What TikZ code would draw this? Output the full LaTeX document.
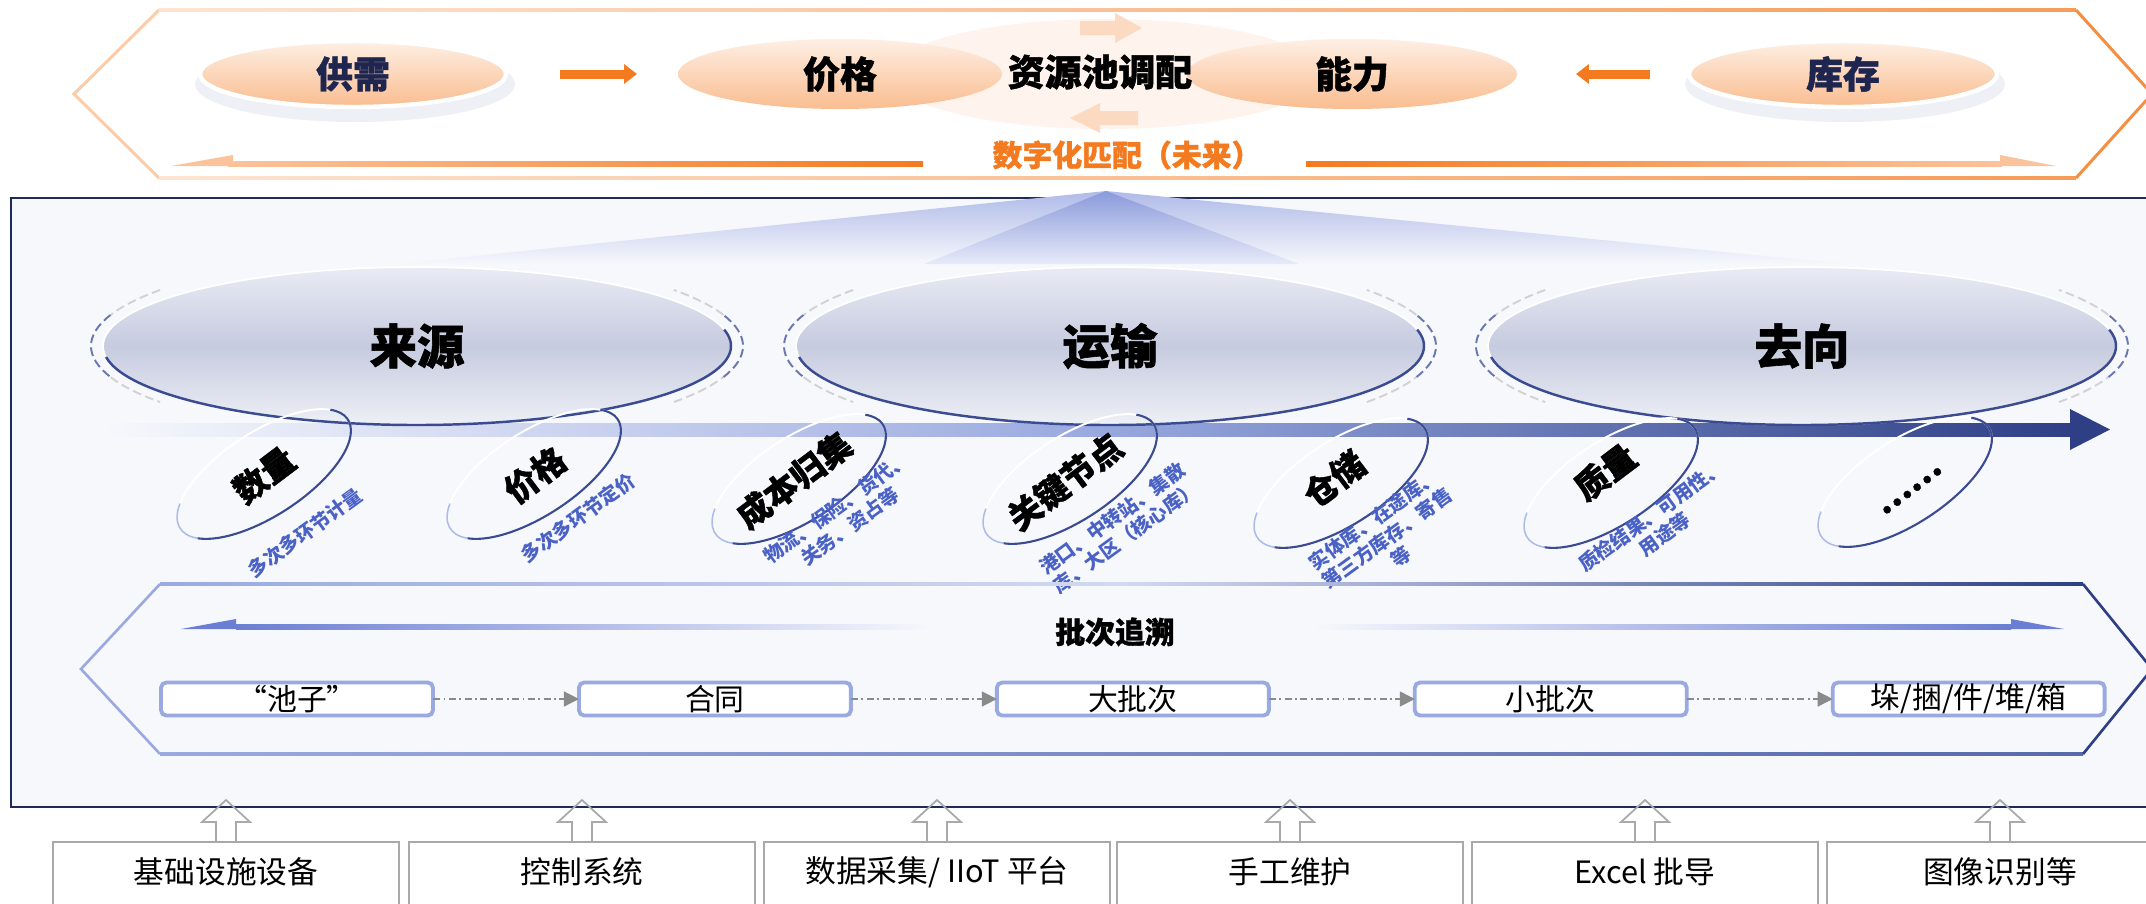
\documentclass[tikz,border=0pt]{standalone}
\usepackage{fontspec}
\setmainfont{Noto Sans CJK SC}
\newfontfamily\heavyfont{Noto Sans CJK SC}[BoldFeatures={FakeBold=1.2}]
\usetikzlibrary{shapes.geometric,arrows.meta,positioning}
\definecolor{navy}{HTML}{2E3F86}
\definecolor{navyline}{HTML}{3A4B92}
\definecolor{paneledge}{HTML}{1F2B57}
\definecolor{lblue}{HTML}{9AAAE0}
\definecolor{subblue}{HTML}{4A62C6}
\definecolor{arrowblue}{HTML}{6A7ED3}
\definecolor{panel}{HTML}{F7F8FC}
\definecolor{orng}{HTML}{F47A20}
\definecolor{lorng}{HTML}{FCCBA7}
\definecolor{ovtop}{HTML}{E9EBF4}
\definecolor{ovmid}{HTML}{C6CBDF}
\definecolor{ovbot}{HTML}{EEF0F6}
\definecolor{fanblue}{HTML}{AFBAE8}
\definecolor{fandeep}{HTML}{8A9ADB}
\definecolor{dotgray}{HTML}{8A8A8A}
\definecolor{boxgray}{HTML}{A9A9A9}
\definecolor{darktext}{HTML}{1E2650}
\newcommand{\fsz}[2]{\fontsize{#1}{#2}\selectfont}

\begin{document}
\begin{tikzpicture}[x=0.02cm, y=0.02cm]
  \tikzstyle{every node}=[inner sep=0pt, outer sep=0pt]
  \tikzstyle{topoval}=[ellipse, top color=orng!12, bottom color=orng!50, font=\heavyfont\fsz{21}{24}\bfseries]
  \tikzstyle{bigoval}=[ellipse, minimum width=12.56cm, minimum height=3.16cm, top color=ovtop, bottom color=ovbot, middle color=ovmid, font=\heavyfont\fsz{27}{30}\bfseries]
  \tikzstyle{tiltlabel}=[rotate=37, font=\heavyfont\fsz{19}{22}\bfseries]
  \tikzstyle{tiltnote}=[rotate=36, align=center, text=subblue, font=\fsz{11}{13}\bfseries]
  \tikzstyle{batch}=[draw=lblue, line width=2.2pt, rounded corners=3pt, fill=white, minimum width=5.44cm, minimum height=0.66cm, font=\fsz{17}{20}]
  \tikzstyle{flow}=[dotgray, line width=0.8pt, dash pattern=on 4pt off 2pt on 1pt off 2pt, -{Triangle[length=0.3cm, width=0.3cm]}]
  \tikzstyle{srcbox}=[draw=boxgray, line width=1pt, fill=white, minimum width=6.92cm, minimum height=2cm]
  \tikzstyle{fatarrow}=[orng, line width=0.18cm, -{Triangle[length=0.26cm, width=0.38cm]}]

  \useasboundingbox (0,0) rectangle (2146,-903);
  \fill[white] (0,0) rectangle (2146,-903);

  % top frame
  \fill[orng!8] (1105,-74) ellipse[x radius=215, y radius=55];
  \draw[lorng, line width=1.7pt] (159,-10) -- (74,-94) -- (159,-178);
  \shade[left color=orng!20, right color=orng!75] (159,-8.5) rectangle (2076,-11.5);
  \shade[left color=orng!20, right color=orng!75] (159,-176.5) rectangle (2076,-179.5);
  \draw[orng!85, line width=1.7pt] (2076,-10) -- (2152,-94) -- (2076,-178);
  \fill[orng!28] (1080,-21) -- (1115,-21) -- (1115,-13) -- (1142,-28) -- (1115,-43) -- (1115,-35) -- (1080,-35) -- cycle;
  \fill[orng!28] (1138,-111) -- (1100,-111) -- (1100,-103) -- (1070,-118) -- (1100,-133) -- (1100,-125) -- (1138,-125) -- cycle;

  \fill[navy!8] (355,-84) ellipse[x radius=160, y radius=38];
  \fill[navy!8] (1845,-84) ellipse[x radius=160, y radius=38];
  \node[topoval, draw=white, line width=2.5pt, minimum width=6.12cm, minimum height=1.32cm, text=darktext] (supply) at (353,-74) {供需};
  \node[topoval, minimum width=6.48cm, minimum height=1.4cm] (price) at (840,-74) {价格};
  \node[topoval, minimum width=6.6cm, minimum height=1.4cm] (capacity) at (1352,-74) {能力};
  \node[topoval, draw=white, line width=2.5pt, minimum width=6.16cm, minimum height=1.32cm, text=darktext] (stock) at (1843,-74) {库存};
  \node[font=\heavyfont\fsz{21}{24}\bfseries] (pool) at (1100,-72) {资源池调配};
  \draw[fatarrow, shorten <=1.08cm, shorten >=0.82cm] (supply.east) -- (price.west);
  \draw[fatarrow, shorten <=0.78cm, shorten >=1.18cm] (stock.west) -- (capacity.east);

  \node[orng, font=\heavyfont\fsz{17}{20}\bfseries] (digital) at (1127,-155) {数字化匹配（未来）};
  \shade[left color=orng!45, right color=orng] (228,-161) rectangle (923,-166);
  \fill[orng!45] (171,-166) -- (233,-155) -- (233,-166) -- cycle;
  \shade[left color=orng, right color=orng!45] (1306,-161) rectangle (2002,-166);
  \fill[orng!45] (2000,-155) -- (2056,-166) -- (2000,-166) -- cycle;

  % middle panel
  \draw[paneledge, line width=1.6pt, fill=panel] (11,-198) rectangle (2170,-807);
  \shade[top color=fanblue, bottom color=panel] (1106,-191) -- (397,-264) -- (1846,-264) -- cycle;
  \shade[top color=fandeep, bottom color=fanblue!30] (1106,-191) -- (924,-264) -- (1299,-264) -- cycle;

  \shade[left color=panel, right color=navy, middle color=lblue] (103,-423) rectangle (2072,-436);
  \fill[navy] (2070,-409) -- (2110,-429.5) -- (2070,-450) -- cycle;

  \node[bigoval] (source) at (417,-346) {来源};
  \node[bigoval] (transport) at (1110,-346) {运输};
  \node[bigoval] (destination) at (1802,-346) {去向};
  \foreach \n in {source,transport,destination}{
    \draw[white, line width=1pt] (\n.center) ellipse[x radius=314, y radius=79];
    \draw[navyline, line width=1.4pt] (\n.center) ++(188:314 and 79) arc[start angle=188, end angle=372, x radius=314, y radius=79];
    \draw[navyline!75, line width=1.1pt, dash pattern=on 5pt off 2.5pt] (\n.center) ++(160:326 and 91) arc[start angle=160, end angle=200, x radius=326, y radius=91];
    \draw[gray!35, line width=1.1pt, dash pattern=on 5pt off 2.5pt] (\n.center) ++(142:326 and 91) arc[start angle=142, end angle=160, x radius=326, y radius=91];
    \draw[gray!35, line width=1.1pt, dash pattern=on 5pt off 2.5pt] (\n.center) ++(200:326 and 91) arc[start angle=200, end angle=218, x radius=326, y radius=91];
    \draw[navyline!75, line width=1.1pt, dash pattern=on 5pt off 2.5pt] (\n.center) ++(-20:326 and 91) arc[start angle=-20, end angle=20, x radius=326, y radius=91];
    \draw[gray!35, line width=1.1pt, dash pattern=on 5pt off 2.5pt] (\n.center) ++(20:326 and 91) arc[start angle=20, end angle=38, x radius=326, y radius=91];
    \draw[gray!35, line width=1.1pt, dash pattern=on 5pt off 2.5pt] (\n.center) ++(-38:326 and 91) arc[start angle=-38, end angle=-20, x radius=326, y radius=91];
  }

  \foreach \cx/\cy in {264/-474, 534/-474, 799/-479, 1070/-479, 1341/-483, 1611/-483, 1905/-482}{
    \begin{scope}[shift={(\cx,\cy)}, rotate=33]
      \draw[white, line width=1.1pt] (0,0) ellipse[x radius=100, y radius=42];
      \draw[lblue!80, line width=0.9pt] (150:100 and 42) arc[start angle=150, end angle=205, x radius=100, y radius=42];
      \draw[navyline, line width=1.2pt] (205:100 and 42) arc[start angle=205, end angle=385, x radius=100, y radius=42];
    \end{scope}
  }
  \node[tiltlabel] (qty) at (264,-475) {数量};
  \node[tiltnote] (qtynote) at (305,-533) {多次多环节计量};
  \node[tiltlabel] (unitprice) at (535,-475) {价格};
  \node[tiltnote] (pricenote) at (578,-518) {多次多环节定价};
  \node[tiltlabel] (cost) at (794,-480) {成本归集};
  \node[tiltnote] (costnote) at (843,-517) {物流、保险、货代、\\关务、资占等};
  \node[tiltlabel] (hub) at (1065,-482) {关键节点};
  \node[tiltnote] (hubnote) at (1119,-528) {港口、中转站、集散\\库、大区（核心库）};
  \node[tiltlabel] (store) at (1334,-479) {仓储};
  \node[tiltnote] (storenote) at (1387,-538) {实体库、在途库、\\第三方库存、寄售\\等};
  \node[tiltlabel] (quality) at (1605,-472) {质量};
  \node[tiltnote] (qualnote) at (1658,-525) {质检结果、可用性、\\用途等};
  \node[tiltlabel] (more) at (1912,-491) {……};

  % batch trace
  \draw[lblue, line width=1.5pt] (160,-584) -- (81,-669) -- (160,-754);
  \shade[left color=lblue, right color=navy, middle color=lblue!45] (160,-582.5) rectangle (2083,-585.5);
  \shade[left color=lblue, right color=navy!60!lblue] (160,-752.5) rectangle (2083,-755.5);
  \draw[navy, line width=1.5pt] (2083,-584) -- (2152,-669) -- (2083,-754);
  \shade[left color=arrowblue, right color=panel] (236,-624.5) rectangle (931,-629);
  \fill[arrowblue] (181,-629) -- (236,-619) -- (236,-629) -- cycle;
  \shade[left color=panel, right color=arrowblue] (1313,-624.5) rectangle (2011,-629);
  \fill[arrowblue] (2011,-619) -- (2064,-629) -- (2011,-629) -- cycle;
  \node[font=\heavyfont\fsz{17}{20}\bfseries] (trace) at (1115,-632) {批次追溯};

  \node[batch] (pond) at (297,-699) {“池子”};
  \node[batch, right=2.92cm of pond] (contract) {合同};
  \node[batch, right=2.92cm of contract] (biglot) {大批次};
  \node[batch, right=2.92cm of biglot] (smalllot) {小批次};
  \node[batch, right=2.92cm of smalllot] (piece) {垛/捆/件/堆/箱};
  \draw[flow] (pond) -- (contract);
  \draw[flow] (contract) -- (biglot);
  \draw[flow] (biglot) -- (smalllot);
  \draw[flow] (smalllot) -- (piece);

  % data sources
  \foreach \x/\t [count=\i] in {226/基础设施设备, 582/控制系统, 937/{数据采集/ IIoT 平台}, 1290/手工维护, 1645/{Excel 批导}, 2000/图像识别等}{
    \node[srcbox, anchor=north] (src\i) at (\x,-842) {};
    \node[font=\fsz{17.5}{20}] (srctext\i) at (\x,-872) {\t};
    \draw[boxgray, line width=1pt] (\x-10,-842) -- (\x-10,-822) -- (\x-24,-822) -- (\x,-800) -- (\x+24,-822) -- (\x+10,-822) -- (\x+10,-842);
  }
\end{tikzpicture}
\end{document}
